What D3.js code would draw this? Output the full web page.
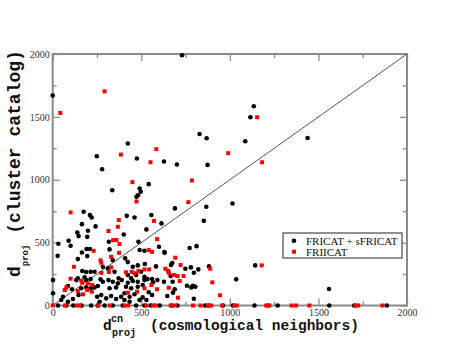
<!DOCTYPE html>
<html>
<head>
<meta charset="utf-8">
<script src="https://cdn.jsdelivr.net/npm/d3@7"></script>
<style>
  body { margin: 0; background: #fff; }
  svg { display: block; }
</style>
</head>
<body>
<svg id="chart" width="458" height="360"></svg>
<script>
// FRICAT + sFRICAT (black circles): [d_proj cn, d_proj catalog]
const fricat = [
  [0,1670],[730,1990],[1135,1584],[1116,1497],[829,1364],[869,1330],[1087,1306],[1439,1332],
  [424,1288],[249,1187],[475,1169],[628,1145],[701,1121],[874,1118],[279,1084],[542,965],
  [491,930],[482,877],[473,864],[497,904],[336,917],[1015,811],[690,772],[867,785],[853,673],
  [557,720],[614,653],[529,605],[600,467],[630,425],[773,457],[812,472],[675,337],[668,322],
  [583,311],[749,292],[780,303],[822,287],[882,311],[797,260],[1143,319],[1036,208],[797,54],
  [1560,131],
  [175,745],[210,719],[220,700],[418,713],[462,700],[165,647],[242,629],[139,581],[146,552],
  [199,594],[195,546],[401,565],[90,515],[101,475],[32,491],[317,507],[484,507],[28,395],
  [191,449],[210,449],[165,422],[321,446],[491,441],[518,435],[142,369],[195,393],[339,361],
  [409,375],[424,345],[452,308],[480,319],[167,274],[189,266],[214,268],[236,268],[2,202],
  [133,202],[142,216],[180,224],[189,202],[214,210],[270,208],[283,189],[315,202],[339,189],
  [368,176],[390,202],[424,181],[452,195],[480,189],[518,202],[86,155],[109,129],[2,97],
  [58,70],[114,52],[146,83],[251,70],[274,83],[302,57],[330,75],[358,52],[386,70],[405,97],
  [434,70],[462,89],[508,65],
  [520,330],[632,419],[666,234],[628,189],[677,189],[520,216],[535,210],[561,210],[591,202],
  [566,184],[542,105],[561,83],[529,44],[689,129],[679,102],[647,75],[758,157],[782,144],
  [792,157],[805,149],
  [283,308],[311,295],[349,268],[372,216],[424,242],[443,216],[471,242],[499,268],[518,229],
  [508,163],[480,149],[443,137],[414,149],[358,144],[321,137],[255,155],[236,144],[214,137],
  [189,144],[161,137],[405,44],[434,30],[490,44],[265,30],[86,30],[48,44],
  [30,0],[77,0],[116,0],[163,0],[217,0],[255,0],[293,0],[339,0],[396,0],[471,0],[518,0],
  [553,0],[604,0],[673,0],[704,0],[861,0],[880,0],[961,0],[1017,0],[1139,0],[1214,0],
  [1270,0],[1561,0],[1702,0],[1886,0]
];

// FRIICAT (red squares)
const friicat = [
  [293,1703],[43,1531],[385,1200],[585,1243],[552,1139],[1154,1497],[991,1211],[1182,1139],
  [786,994],[450,981],[473,827],[766,822],[572,673],[589,528],[692,380],[636,292],[722,322],
  [889,292],[656,260],[1180,319],[901,184],[944,81],
  [101,740],[373,679],[368,626],[315,592],[341,520],[360,520],[377,488],[231,435],[375,419],
  [270,359],[274,340],[330,387],[330,303],[120,308],[446,268],[462,256],[484,274],[518,287],
  [274,260],[317,266],[414,264],[101,213],[161,197],[167,181],[223,163],[199,176],[68,123],
  [77,144],[142,115],[171,89],[195,123],[221,110],[424,102],[476,110],[518,137],
  [542,441],[561,427],[544,287],[651,276],[685,242],[705,234],[717,195],[739,234],[557,163],
  [589,129],[655,141],[707,62],
  [0,0],[69,0],[135,0],[152,0],[257,0],[323,0],[405,0],[426,0],[529,0],[566,0],[582,0],
  [666,0],[689,0],[792,0],[835,0],[876,0],[895,0],[957,0],[1026,0],[1039,0],[1205,0],
  [1223,0],[1349,0],[1374,0],[1449,0],[1708,0],[1725,0],[1861,0]
];

const majorTicks = [0, 500, 1000, 1500, 2000];
const minorTicks = [250, 750, 1250, 1750];
const legendLabels = ["FRICAT + sFRICAT", "FRIICAT"];

const svg = d3.select("#chart");
const plot = { left: 52.7, right: 407, top: 54, bottom: 305.5 };

const x = d3.scaleLinear().domain([0, 2000]).range([plot.left, plot.right]);
const y = d3.scaleLinear().domain([0, 2000]).range([plot.bottom, plot.top]);

const frameColor = "#8a8a8a";
const serif = "'Liberation Serif', 'Times New Roman', serif";
const mono = "'Liberation Mono', 'Courier New', monospace";

// frame
svg.append("rect")
  .attr("x", plot.left).attr("y", plot.top)
  .attr("width", plot.right - plot.left).attr("height", plot.bottom - plot.top)
  .attr("fill", "none")
  .attr("stroke", frameColor)
  .attr("stroke-width", 2);

// axes with inward ticks
function styleAxis(g) {
  g.select(".domain").remove();
  g.selectAll(".tick line").attr("stroke", frameColor).attr("stroke-width", 1.3);
  g.selectAll(".tick text")
    .style("font-family", serif)
    .style("font-size", "10px")
    .attr("fill", "#333");
}

svg.append("g").attr("transform", `translate(0,${plot.bottom})`)
  .call(d3.axisBottom(x).tickValues(majorTicks).tickSize(-7).tickPadding(3).tickFormat(d3.format("d")))
  .call(styleAxis);
svg.append("g").attr("transform", `translate(0,${plot.bottom})`)
  .call(d3.axisBottom(x).tickValues(minorTicks).tickSize(-4).tickFormat(""))
  .call(styleAxis);
svg.append("g").attr("transform", `translate(0,${plot.top})`)
  .call(d3.axisTop(x).tickValues(majorTicks).tickSize(-7).tickFormat(""))
  .call(styleAxis);
svg.append("g").attr("transform", `translate(0,${plot.top})`)
  .call(d3.axisTop(x).tickValues(minorTicks).tickSize(-4).tickFormat(""))
  .call(styleAxis);

svg.append("g").attr("transform", `translate(${plot.left},0)`)
  .call(d3.axisLeft(y).tickValues(majorTicks).tickSize(-7).tickPadding(3).tickFormat(d3.format("d")))
  .call(styleAxis);
svg.append("g").attr("transform", `translate(${plot.left},0)`)
  .call(d3.axisLeft(y).tickValues(minorTicks).tickSize(-4).tickFormat(""))
  .call(styleAxis);
svg.append("g").attr("transform", `translate(${plot.right},0)`)
  .call(d3.axisRight(y).tickValues(majorTicks).tickSize(-7).tickFormat(""))
  .call(styleAxis);
svg.append("g").attr("transform", `translate(${plot.right},0)`)
  .call(d3.axisRight(y).tickValues(minorTicks).tickSize(-4).tickFormat(""))
  .call(styleAxis);

// one-to-one line
svg.append("line")
  .attr("x1", x(0)).attr("y1", y(0))
  .attr("x2", x(2000)).attr("y2", y(2000))
  .attr("stroke", "#555")
  .attr("stroke-width", 1);

// points
svg.append("g").selectAll("circle")
  .data(fricat)
  .join("circle")
  .attr("cx", d => x(d[0]))
  .attr("cy", d => y(d[1]))
  .attr("r", 2.3)
  .attr("fill", "#000");

svg.append("g").selectAll("rect")
  .data(friicat)
  .join("rect")
  .attr("x", d => x(d[0]) - 2)
  .attr("y", d => y(d[1]) - 2)
  .attr("width", 4)
  .attr("height", 4)
  .attr("fill", "#ff0000");

// legend
const legend = svg.append("g");
legend.append("rect")
  .attr("x", 283).attr("y", 233)
  .attr("width", 119).attr("height", 25)
  .attr("fill", "#fff")
  .attr("stroke", "#555")
  .attr("stroke-width", 1.3);
legend.append("circle").attr("cx", 294).attr("cy", 240.7).attr("r", 2.3).attr("fill", "#000");
legend.append("rect").attr("x", 292).attr("y", 249.7).attr("width", 4).attr("height", 4).attr("fill", "#ff0000");
legendLabels.forEach((label, i) => {
  legend.append("text")
    .attr("x", 306)
    .attr("y", 244.5 + i * 11)
    .text(label)
    .style("font-family", serif)
    .style("font-size", "11px")
    .attr("fill", "#111");
});

// x axis title
const xt = svg.append("g").style("font-family", mono).style("font-weight", "bold").attr("fill", "#111");
xt.append("text").attr("x", 103).attr("y", 330).style("font-size", "14.5px").text("d");
xt.append("text").attr("x", 111).attr("y", 322).style("font-size", "10px").text("cn");
xt.append("text").attr("x", 112).attr("y", 336).style("font-size", "10px").text("proj");
xt.append("text").attr("x", 150).attr("y", 330).style("font-size", "14.5px").text("(cosmological neighbors)");

// y axis title
const yt = svg.append("text")
  .attr("transform", "translate(20,277) rotate(-90)")
  .style("font-family", mono)
  .style("font-weight", "bold")
  .attr("fill", "#111");
yt.append("tspan").style("font-size", "18px").text("d");
yt.append("tspan").attr("dy", 8).style("font-size", "9px").text("proj");
yt.append("tspan").attr("dy", -8).style("font-size", "18px").text(" (cluster catalog)");
</script>
</body>
</html>
